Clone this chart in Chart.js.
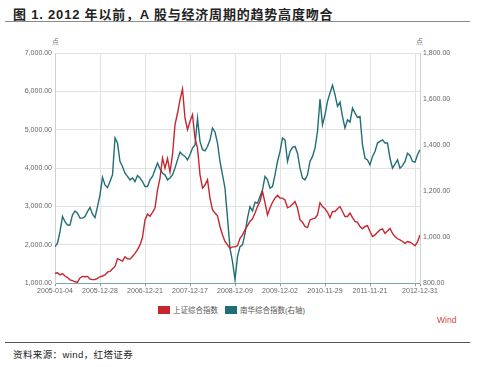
<!DOCTYPE html>
<html>
<head>
<meta charset="utf-8">
<script src="https://cdn.jsdelivr.net/npm/chart.js@4.4.1/dist/chart.umd.min.js"></script>
<style>
  body { margin: 0; width: 486px; height: 367px; background: #fff; position: relative; overflow: hidden;
         font-family: "Liberation Sans", "Noto Sans CJK SC", sans-serif; }
  .title { position: absolute; left: 13px; top: 4px; font-size: 13px; letter-spacing: 0.8px; font-weight: bold; color: #222; white-space: nowrap; }
  .rule-top { position: absolute; left: 5px; top: 21px; width: 465px; height: 0; border-top: 1.5px solid #8a8a8a; }
  .rule-bottom { position: absolute; left: 5px; top: 342px; width: 465px; height: 0; border-top: 1px solid #555; }
  .unit { position: absolute; font-size: 7px; color: #777; }
  .legend { position: absolute; top: 304px; left: 158px; font-size: 7.5px; color: #555; white-space: nowrap; }
  .legend span.box { display: inline-block; width: 12px; height: 8px; vertical-align: -1px; margin-right: 3px; }
  .legend span.item { margin-right: 5px; }
  .wind { position: absolute; left: 437px; top: 315px; font-size: 8.5px; color: #d0463f; }
  .source { position: absolute; left: 13px; top: 347px; font-size: 9.5px; letter-spacing: 0.4px; color: #222; white-space: nowrap; }
  #wrap { position: absolute; left: 0; top: 0; width: 486px; height: 300px; }
</style>
</head>
<body>
<div class="title">图 1. 2012 年以前，A 股与经济周期的趋势高度吻合</div>
<div class="rule-top"></div>
<div class="unit" style="left:52px; top:36px;">点</div>
<div class="unit" style="left:416px; top:36px;">点</div>
<div id="wrap"><canvas id="chart"></canvas></div>
<div class="legend">
  <span class="item"><span class="box" style="background:#c8262f"></span>上证综合指数</span>
  <span class="item"><span class="box" style="background:#216e77"></span>南华综合指数(右轴)</span>
</div>
<div class="wind">Wind</div>
<div class="rule-bottom"></div>
<div class="source">资料来源：wind，红塔证券</div>

<script>
// tick labels on the time axis, placed at these point indexes
const xTickIndex = [0, 18, 36, 54, 72, 90, 108, 126, 144, 146];
const xTickLabels = ['2005-01-04', '2005-12-28', '2006-12-21', '2007-12-17', '2008-12-09',
  '2009-12-02', '2010-11-29', '2011-11-21', '', '2012-12-31'];

// 上证综合指数 (left axis)
const shIndex = [
  1260, 1275, 1220, 1250, 1190, 1150, 1090, 1070, 1040, 1030,
  1140, 1180, 1170, 1180, 1110, 1095, 1100, 1130, 1170, 1190,
  1220, 1290, 1310, 1380, 1440, 1640, 1610, 1580, 1690, 1640,
  1630, 1700, 1780, 1880, 2000, 2200, 2650, 2800, 2750, 2850,
  2960, 3430, 3740, 4260, 4000, 4250, 3900, 4350, 5130, 5430,
  5780, 6060, 5300, 5000, 5220, 5390, 4780, 4520, 3830, 3480,
  3560, 3700, 3220, 2910, 2830, 2760, 2480, 2260, 2090, 2000,
  1910, 1950, 1950, 1980, 2170, 2260, 2390, 2500, 2610, 2680,
  2830, 3000, 3130, 3390, 3100, 2780, 2960, 3110, 3220, 3290,
  3220, 3220, 3170, 2970, 3000, 3060, 3130, 2960, 2650, 2590,
  2480, 2450, 2650, 2680, 2700, 2780, 3100, 3000, 2940, 2850,
  2710, 2870, 2870, 2940, 3000, 2870, 2740, 2740, 2830, 2710,
  2610, 2590, 2480, 2420, 2480, 2500, 2350, 2220, 2260, 2330,
  2390, 2420, 2300, 2360, 2430, 2300, 2220, 2160, 2130, 2090,
  2040, 2090, 2070, 2030, 1980, 2080, 2260
];

// 南华综合指数 (right axis)
const nhIndex = [
  959, 974, 1024, 1090, 1068, 1053, 1053, 1097, 1114, 1104,
  1083, 1083, 1090, 1111, 1130, 1100, 1085, 1133, 1184, 1260,
  1227, 1216, 1242, 1271, 1431, 1409, 1329, 1307, 1278, 1264,
  1249, 1257, 1242, 1268, 1257, 1242, 1220, 1220, 1249, 1264,
  1293, 1322, 1297, 1278, 1271, 1249, 1257, 1271, 1300, 1336,
  1370, 1358, 1351, 1336, 1358, 1387, 1401, 1517, 1416, 1380,
  1375, 1394, 1423, 1474, 1457, 1409, 1329, 1271, 1213, 1083,
  952, 894, 817, 916, 959, 967, 1017, 1083, 1133, 1114,
  1152, 1148, 1177, 1206, 1264, 1249, 1213, 1220, 1271, 1329,
  1372, 1431, 1423, 1329, 1372, 1390, 1394, 1365, 1300, 1257,
  1249, 1271, 1329, 1351, 1387, 1459, 1600, 1488, 1532, 1590,
  1626, 1660, 1619, 1568, 1587, 1524, 1474, 1510, 1500, 1561,
  1539, 1520, 1524, 1401, 1343, 1336, 1314, 1351, 1372, 1409,
  1416, 1423, 1409, 1409, 1343, 1300, 1317, 1336, 1300, 1311,
  1329, 1365, 1355, 1329, 1326, 1358, 1380
];

const leftTicks = [1000, 2000, 3000, 4000, 5000, 6000, 7000];
const rightTicks = [800, 1000, 1200, 1400, 1600, 1800];

const fmt = (v) => v.toLocaleString('en-US', { minimumFractionDigits: 2, maximumFractionDigits: 2 });
const tickFont = { family: 'Liberation Sans', size: 7 };

const ctx = document.getElementById('chart').getContext('2d');
new Chart(ctx, {
  type: 'line',
  data: {
    datasets: [
      {
        label: '上证综合指数',
        data: shIndex.map((v, i) => ({ x: i, y: v })),
        yAxisID: 'y',
        borderColor: '#c8262f',
        borderWidth: 1.4,
        pointRadius: 0,
        tension: 0,
      },
      {
        label: '南华综合指数(右轴)',
        data: nhIndex.map((v, i) => ({ x: i, y: v })),
        yAxisID: 'y1',
        borderColor: '#216e77',
        borderWidth: 1.4,
        pointRadius: 0,
        tension: 0,
      },
    ],
  },
  options: {
    responsive: true,
    maintainAspectRatio: false,
    animation: false,
    layout: { padding: { top: 53, left: 0, right: 0, bottom: 0 } },
    plugins: { legend: { display: false }, tooltip: { enabled: false } },
    scales: {
      x: {
        type: 'linear',
        min: 0,
        max: shIndex.length - 1,
        afterBuildTicks: (scale) => { scale.ticks = xTickIndex.map((v) => ({ value: v })); },
        afterFit: (scale) => { scale.height = 16.7; },
        ticks: {
          autoSkip: false,
          maxRotation: 0,
          padding: 1,
          color: '#666',
          font: tickFont,
          callback: (v) => xTickLabels[xTickIndex.indexOf(v)],
        },
        grid: { color: '#e2e2e2', tickLength: 3, tickColor: '#7fa3a8' },
        border: { color: '#7fa3a8', width: 1 },
      },
      y: {
        position: 'left',
        min: 1000,
        max: 7000,
        afterBuildTicks: (scale) => { scale.ticks = leftTicks.map((v) => ({ value: v })); },
        afterFit: (scale) => { scale.width = 55; },
        ticks: { padding: 3, color: '#666', font: tickFont, callback: fmt },
        grid: { color: '#e2e2e2', drawTicks: false },
        border: { color: '#d0d0d0' },
      },
      y1: {
        position: 'right',
        min: 800,
        max: 1800,
        afterBuildTicks: (scale) => { scale.ticks = rightTicks.map((v) => ({ value: v })); },
        afterFit: (scale) => { scale.width = 66; },
        ticks: { padding: 3, color: '#666', font: tickFont, callback: fmt },
        grid: { drawOnChartArea: false, drawTicks: false },
        border: { color: '#d0d0d0' },
      },
    },
  },
});
</script>
</body>
</html>
